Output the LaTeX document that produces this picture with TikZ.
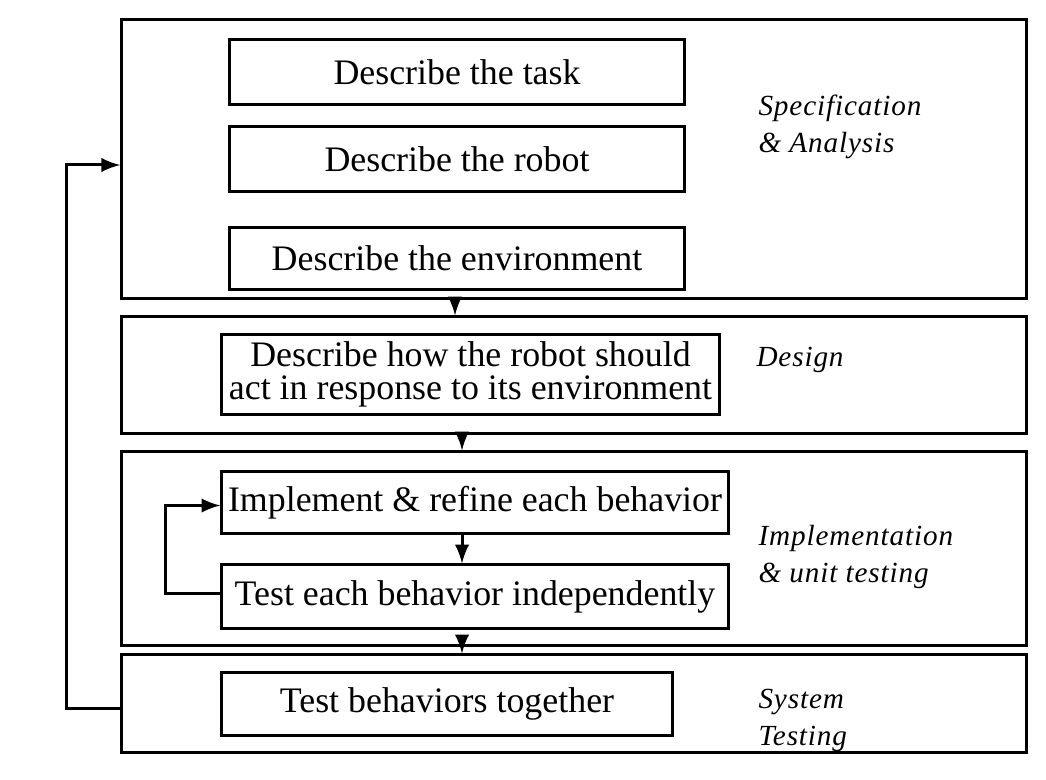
\documentclass[tikz,border=0pt]{standalone}
\usepackage{fontspec}
\setmainfont{Liberation Serif}
\newfontfamily\phasefont[LetterSpace=3]{Liberation Serif}
\usetikzlibrary{arrows,positioning}

\begin{document}
\begin{tikzpicture}
[x=0.01cm, y=-0.01cm, line width=0.85pt, >=latex,
% STYLES
% The phase style is used to draw the large frames of the process
phase/.style={rectangle, draw, minimum width=9.04cm, inner sep=0pt},
% The activity style is used to draw each task inside a phase
activity/.style={rectangle, draw, inner sep=0pt, align=center, font=\fontsize{10.2}{9.4}\selectfont},
% The tag style is used to write the phase's name
tag/.style={anchor=west, align=left, inner sep=0pt, font=\phasefont\itshape\fontsize{8.3}{10.5}\selectfont}]

\useasboundingbox (0,0) rectangle (1046,780);

% Draw phases
\node [phase, minimum height=2.78cm] (spec) at (574,159) {};
\node [phase, minimum height=1.16cm] (design) at (574,375) {};
\node [phase, minimum height=1.93cm] (impl) at (574,548.5) {};
\node [phase, minimum height=0.97cm] (system) at (574,703.5) {};

% Draw activities
\node [activity, minimum width=4.54cm, minimum height=0.64cm] (task) at (457,72) {Describe the task};
\node [activity, minimum width=4.54cm, minimum height=0.64cm] (robot) at (457,159) {Describe the robot};
\node [activity, minimum width=4.54cm, minimum height=0.61cm] (env) at (457,258.5) {Describe the environment};
\node [activity, minimum width=4.97cm, minimum height=0.79cm] (act) at (470.5,374.5) {Describe how the robot should\\act in response to its environment};
\node [activity, minimum width=5.06cm, minimum height=0.61cm] (refine) at (475,502.5) {Implement \& refine each behavior};
\node [activity, minimum width=5.06cm, minimum height=0.63cm] (unit) at (475,596.5) {Test each behavior independently};
\node [activity, minimum width=4.50cm, minimum height=0.62cm] (together) at (447,704) {Test behaviors together};

% Phase names
\node [tag] (tag-spec) at (757,127) {Specification\\\& Analysis};
\node [tag] (tag-design) at (755,360) {Design};
\node [tag] (tag-impl) at (757,557) {Implementation\\\& unit testing};
\node [tag] (tag-system) at (757,720) {System\\Testing};

% Draw the links between phases
\draw [->] (spec.south -| 455,0) -- (design.north -| 455,0);
\draw [->] (design.south -| 462,0) -- (impl.north -| 462,0);
\draw [->] (impl.south -| 462,0) -- (system.north -| 462,0);
\draw [->] (refine.south -| 462,0) -- (unit.north -| 462,0);

% Feedback loops
\draw [->] ([yshift=0.03cm]unit.west) -- ++(-55,0) |- ([yshift=-0.03cm]refine.west);
\draw [->] ([yshift=-0.05cm]system.west) -- ++(-54,0) |- ([yshift=-0.06cm]spec.west);

\end{tikzpicture}
\end{document}
